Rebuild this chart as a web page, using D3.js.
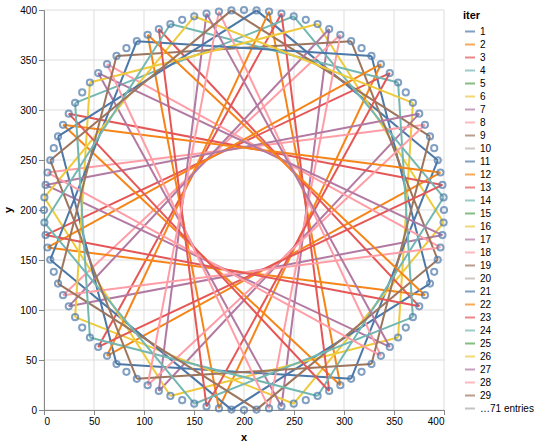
<!DOCTYPE html>
<html>
<head>
<meta charset="utf-8">
<script src="https://cdn.jsdelivr.net/npm/d3@7"></script>
<style>
  body { margin: 0; background: #fff; }
  text { font-family: "Liberation Sans", Arial, Helvetica, sans-serif; }
</style>
</head>
<body>
<svg id="chart" width="539" height="447"></svg>
<script>
// points on the circle, numbered clockwise from the top
const ptX = [200, 212.56, 225.07, 237.48, 249.74, 261.8, 273.62, 285.16, 296.35, 307.17,
  317.56, 327.48, 336.91, 345.79, 354.1, 361.8, 368.87, 375.26, 380.97, 385.96,
  390.21, 393.72, 396.46, 398.42, 399.61, 400, 399.61, 398.42, 396.46, 393.72,
  390.21, 385.96, 380.97, 375.26, 368.87, 361.8, 354.1, 345.79, 336.91, 327.48,
  317.56, 307.17, 296.35, 285.16, 273.62, 261.8, 249.74, 237.48, 225.07, 212.56,
  200, 187.44, 174.93, 162.52, 150.26, 138.2, 126.38, 114.84, 103.65, 92.83,
  82.44, 72.52, 63.09, 54.21, 45.9, 38.2, 31.13, 24.74, 19.03, 14.04,
  9.79, 6.28, 3.54, 1.58, 0.39, 0, 0.39, 1.58, 3.54, 6.28,
  9.79, 14.04, 19.03, 24.74, 31.13, 38.2, 45.9, 54.21, 63.09, 72.52,
  82.44, 92.83, 103.65, 114.84, 126.38, 138.2, 150.26, 162.52, 174.93, 187.44];
const ptY = [400, 399.61, 398.42, 396.46, 393.72, 390.21, 385.96, 380.97, 375.26, 368.87,
  361.8, 354.1, 345.79, 336.91, 327.48, 317.56, 307.17, 296.35, 285.16, 273.62,
  261.8, 249.74, 237.48, 225.07, 212.56, 200, 187.44, 174.93, 162.52, 150.26,
  138.2, 126.38, 114.84, 103.65, 92.83, 82.44, 72.52, 63.09, 54.21, 45.9,
  38.2, 31.13, 24.74, 19.03, 14.04, 9.79, 6.28, 3.54, 1.58, 0.39,
  0, 0.39, 1.58, 3.54, 6.28, 9.79, 14.04, 19.03, 24.74, 31.13,
  38.2, 45.9, 54.21, 63.09, 72.52, 82.44, 92.83, 103.65, 114.84, 126.38,
  138.2, 150.26, 162.52, 174.93, 187.44, 200, 212.56, 225.07, 237.48, 249.74,
  261.8, 273.62, 285.16, 296.35, 307.17, 317.56, 327.48, 336.91, 345.79, 354.1,
  361.8, 368.87, 375.26, 380.97, 385.96, 390.21, 393.72, 396.46, 398.42, 399.61];

// one chord per iter: start point -> end point
const iters = [1, 2, 3, 4, 5, 6, 7, 8, 9, 10, 11, 12, 13, 14, 15, 16, 17, 18, 19, 20,
  21, 22, 23, 24, 25, 26, 27, 28, 29, 30, 31, 32, 33, 34, 35, 36, 37, 38, 39, 40,
  41, 42, 43, 44, 45, 46, 47, 48, 49, 50, 51, 52, 53, 54, 55, 56, 57, 58, 59, 60,
  61, 62, 63, 64, 65, 66, 67, 68, 69, 70, 71, 72, 73, 74, 75, 76, 77, 78, 79, 80,
  81, 82, 83, 84, 85, 86, 87, 88, 89, 90, 91, 92, 93, 94, 95, 96, 97, 98, 99, 100];
const fromPt = [1, 2, 3, 4, 5, 6, 7, 8, 9, 10, 11, 12, 13, 14, 15, 16, 17, 18, 19, 20,
  21, 22, 23, 24, 25, 26, 27, 28, 29, 30, 31, 32, 33, 34, 35, 36, 37, 38, 39, 40,
  41, 42, 43, 44, 45, 46, 47, 48, 49, 50, 51, 52, 53, 54, 55, 56, 57, 58, 59, 60,
  61, 62, 63, 64, 65, 66, 67, 68, 69, 70, 71, 72, 73, 74, 75, 76, 77, 78, 79, 80,
  81, 82, 83, 84, 85, 86, 87, 88, 89, 90, 91, 92, 93, 94, 95, 96, 97, 98, 99, 0];
const toPt = [21, 42, 63, 84, 5, 26, 47, 68, 89, 10, 31, 52, 73, 94, 15, 36, 57, 78, 99, 20,
  41, 62, 83, 4, 25, 46, 67, 88, 9, 30, 51, 72, 93, 14, 35, 56, 77, 98, 19, 40,
  61, 82, 3, 24, 45, 66, 87, 8, 29, 50, 71, 92, 13, 34, 55, 76, 97, 18, 39, 60,
  81, 2, 23, 44, 65, 86, 7, 28, 49, 70, 91, 12, 33, 54, 75, 96, 17, 38, 59, 80,
  1, 22, 43, 64, 85, 6, 27, 48, 69, 90, 11, 32, 53, 74, 95, 16, 37, 58, 79, 0];

const xTicks = [0, 50, 100, 150, 200, 250, 300, 350, 400];
const yTicks = [0, 50, 100, 150, 200, 250, 300, 350, 400];
const palette = ["#4c78a8", "#f58518", "#e45756", "#72b7b2", "#54a24b",
  "#eeca3b", "#b279a2", "#ff9da6", "#9d755d", "#bab0ac"];

const margin = { left: 44, top: 10 };
const W = 400, H = 400;

const svg = d3.select("#chart");
const g = svg.append("g").attr("transform", `translate(${margin.left},${margin.top})`);

const x = d3.scaleLinear().domain([0, 400]).range([0, W]);
const y = d3.scaleLinear().domain([0, 400]).range([H, 0]);
const color = d3.scaleOrdinal().domain(iters).range(palette);

// grid
g.append("g").selectAll("line").data(xTicks).join("line")
  .attr("x1", d => x(d)).attr("x2", d => x(d)).attr("y1", 0).attr("y2", H)
  .attr("stroke", "#ddd");
g.append("g").selectAll("line").data(yTicks).join("line")
  .attr("y1", d => y(d)).attr("y2", d => y(d)).attr("x1", 0).attr("x2", W)
  .attr("stroke", "#ddd");

// axes
const xAxis = g.append("g").attr("transform", `translate(0,${H})`)
  .call(d3.axisBottom(x).tickValues(xTicks).tickSize(5).tickPadding(3));
const yAxis = g.append("g")
  .call(d3.axisLeft(y).tickValues(yTicks).tickSize(5).tickPadding(2));
[xAxis, yAxis].forEach(a => {
  a.select(".domain").attr("stroke", "#888");
  a.selectAll(".tick line").attr("stroke", "#888");
  a.selectAll(".tick text").attr("font-size", 10).attr("fill", "#000")
    .style("font-family", "'Liberation Sans', Arial, sans-serif");
});
// flush first / last x labels like vega-lite
xAxis.selectAll(".tick text").attr("text-anchor", (d, i) => i === 0 ? "start" : (i === xTicks.length - 1 ? "end" : "middle"));

g.append("text").attr("x", W / 2).attr("y", H + 31).attr("text-anchor", "middle")
  .attr("font-size", 11).attr("font-weight", "bold").text("x");
g.append("text").attr("transform", `translate(-32,${H / 2}) rotate(-90)`)
  .attr("text-anchor", "middle").attr("font-size", 11).attr("font-weight", "bold").text("y");

// chords
const chords = iters.map((it, i) => ({
  iter: it,
  pts: [[ptX[fromPt[i]], ptY[fromPt[i]]], [ptX[toPt[i]], ptY[toPt[i]]]]
}));
const line = d3.line().x(d => x(d[0])).y(d => y(d[1]));
g.append("g").selectAll("path").data(chords).join("path")
  .attr("d", d => line(d.pts.slice().sort((a, b) => a[0] - b[0])))
  .attr("fill", "none")
  .attr("stroke", d => color(d.iter))
  .attr("stroke-width", 2);

// circle points
g.append("g").selectAll("circle").data(fromPt).join("circle")
  .attr("cx", d => x(ptX[d])).attr("cy", d => y(ptY[d]))
  .attr("r", 3.1)
  .attr("fill", "none")
  .attr("stroke", "#4c78a8")
  .attr("stroke-width", 2)
  .attr("opacity", 0.7);

// legend
const leg = svg.append("g").attr("transform", "translate(462,10)");
leg.append("text").attr("x", 1).attr("y", 9).attr("font-size", 11)
  .attr("font-weight", "bold").text("iter");
const shown = iters.slice(0, 29);
const rows = leg.selectAll("g.row").data(shown.concat(["more"])).join("g")
  .attr("class", "row")
  .attr("transform", (d, i) => `translate(0,${21.5 + i * 13})`);
rows.append("line").attr("x1", 3).attr("x2", 13).attr("y1", 0).attr("y2", 0)
  .attr("stroke", d => d === "more" ? "#aaa" : color(d))
  .attr("stroke-width", 2).attr("opacity", 0.7);
rows.append("text").attr("x", 18).attr("y", 0).attr("dy", "0.35em")
  .attr("font-size", 10)
  .text(d => d === "more" ? `…${iters.length - shown.length} entries` : d);
</script>
</body>
</html>
